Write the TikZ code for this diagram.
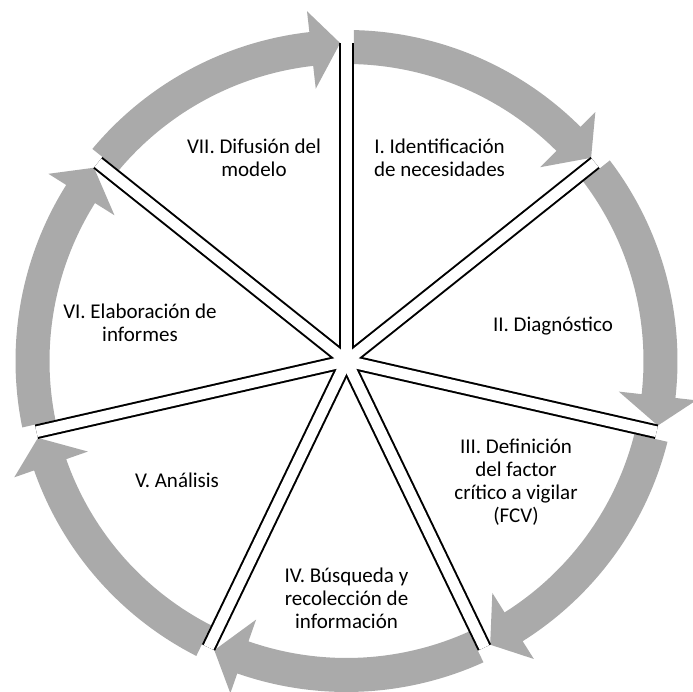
\documentclass[tikz,border=0pt]{standalone}
\usepackage{fontspec}
\setmainfont{Carlito}
\definecolor{arrowgray}{RGB}{170,170,170}
\begin{document}
\begin{tikzpicture}[x=1pt,y=1pt,
  lbl/.style={font=\fontsize{21}{23}\selectfont, align=center, inner sep=0pt, text=black},
  cyclearrow/.style={fill=arrowgray, draw=none},
  divout/.style={draw=black, line width=14.7pt, line cap=butt},
  divin/.style={draw=white, line width=10.7pt, line cap=butt}]
\useasboundingbox (0,0) rectangle (693,692);
\coordinate (C) at (346.5,331);
\begin{scope}[shift={(346.5,331)}]
\foreach \k in {0,...,6}{
  \pgfmathsetmacro{\th}{90-\k*360/7}
  \pgfmathsetmacro{\aOo}{\th-asin(7.35/331)}
  \pgfmathsetmacro{\aOi}{\th-asin(7.35/297)}
  \pgfmathsetmacro{\aT}{\th-360/7+asin(6.35/318)}
  \pgfmathsetmacro{\aB}{\aT+5.3}
  \fill[cyclearrow] (\aOo:331) arc[start angle=\aOo, end angle=\aB, radius=331]
     -- (\aB:352) -- (\aT:318) -- (\aB:274) -- (\aB:297)
     arc[start angle=\aB, end angle=\aOi, radius=297] -- cycle;
  \coordinate (E\k) at (\th:318);
}
\end{scope}
\foreach \k in {0,...,6}{\path[divout] (C) -- (E\k);}
\foreach \k in {0,...,6}{\path[divin] (C) -- (E\k);}
\node[lbl] (n1) at (439.5,531.1) {\strut I. Identificación\\\strut de necesidades};
\node[lbl] (n2) at (553,364.9) {\strut II. Diagnóstico};
\node[lbl] (n3) at (516,208.1) {\strut III. Definición\\\strut del factor\\\strut crítico a vigilar\\\strut (FCV)};
\node[lbl] (n4) at (346.5,90.6) {\strut IV. Búsqueda y\\\strut recolección de\\\strut información};
\node[lbl] (n5) at (177,208.6) {\strut V. Análisis};
\node[lbl] (n6) at (140,366.8) {\strut VI. Elaboración de\\\strut informes};
\node[lbl] (n7) at (254,531.1) {\strut VII. Difusión del\\\strut modelo};
\end{tikzpicture}
\end{document}
